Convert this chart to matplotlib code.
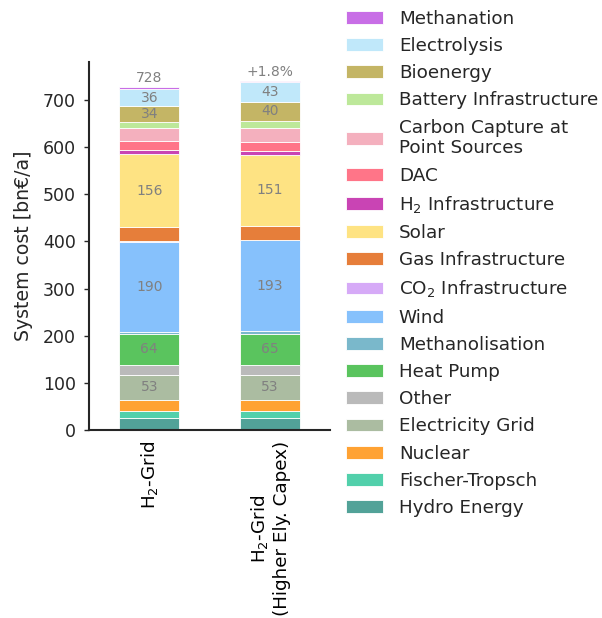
import matplotlib
matplotlib.use("Agg")
import matplotlib.pyplot as plt
import numpy as np

scenarios = ["H$_2$-Grid", "H$_2$-Grid\n(Higher Ely. Capex)"]

# stack order from bottom to top
categories = [
    "Hydro Energy", "Fischer-Tropsch", "Nuclear", "Electricity Grid", "Other",
    "Heat Pump", "Methanolisation", "Wind", "CO$_2$ Infrastructure",
    "Gas Infrastructure", "Solar", "H$_2$ Infrastructure", "DAC",
    "Carbon Capture at\nPoint Sources", "Battery Infrastructure", "Bioenergy",
    "Electrolysis", "Methanation",
]
colors = [
    "#52a298", "#52d0ab", "#ffa233", "#abbca1", "#bababa",
    "#5ac45e", "#7ab8cb", "#86c1fc", "#d6aaf7",
    "#e67e3a", "#fee383", "#c944b4", "#ff7588",
    "#f4b0be", "#bde89a", "#c4b565",
    "#c0e8fa", "#c86ee6",
]
h2_grid = [25, 16, 23, 53, 22, 64, 6, 190, 1, 30, 156, 7, 20, 28, 12, 34, 36, 5]
h2_grid_ely = [25, 16, 23, 53, 22, 65, 6, 193, 1, 29, 151, 8, 18, 31, 15, 40, 43, 2]
values = np.array([h2_grid, h2_grid_ely], dtype=float)

fig = plt.figure(figsize=(6.02, 6.18), dpi=100)
ax = fig.add_axes([0.148, 0.304, 0.4, 0.596])

x = np.arange(len(scenarios))
bottom = np.zeros(len(scenarios))
handles = []
for i, cat in enumerate(categories):
    v = values[:, i]
    b = ax.bar(x, v, 0.5, bottom=bottom, color=colors[i], edgecolor="white",
               linewidth=0.6, label=cat)
    handles.append(b)
    for j in range(len(x)):
        if v[j] >= 33:
            ax.text(x[j], bottom[j] + v[j] / 2, f"{v[j]:.0f}", ha="center",
                    va="center", fontsize=10, color="grey")
    bottom += v

totals = values.sum(axis=1)
ax.text(x[0], totals[0] + 3, f"{totals[0]:.0f}", ha="center", va="bottom",
        fontsize=10, color="grey")
for j in range(1, len(x)):
    pct = (totals[j] - totals[0]) / totals[0] * 100
    ax.text(x[j], totals[j] + 3, f"{pct:+.1f}%", ha="center", va="bottom",
            fontsize=10, color="grey")

ax.set_xlim(-0.5, 1.5)
ax.set_ylim(0, 781)
ax.set_xticks(x)
ax.set_xticklabels(scenarios, rotation=90, fontsize=13.2)
ax.tick_params(axis="x", length=0, pad=8)
ax.tick_params(axis="y", labelsize=12.5, length=3.5, width=1, pad=6,
               color="#262626", labelcolor="#262626")
ax.set_ylabel("System cost [bn€/a]", fontsize=13.6, color="#262626", labelpad=7)
for s in ["top", "right"]:
    ax.spines[s].set_visible(False)
for s in ["left", "bottom"]:
    ax.spines[s].set_linewidth(1.5)
    ax.spines[s].set_color("#262626")

leg = ax.legend(handles[::-1], categories[::-1], loc="upper left",
                bbox_to_anchor=(339.0 / 602, 1 - 2.5 / 618),
                bbox_transform=fig.transFigure, borderaxespad=0,
                frameon=False, fontsize=13.25,
                labelspacing=0.5, handlelength=2.0, handletextpad=0.85)
for t in leg.get_texts():
    t.set_color("#262626")

fig.savefig("out.png", dpi=100)
